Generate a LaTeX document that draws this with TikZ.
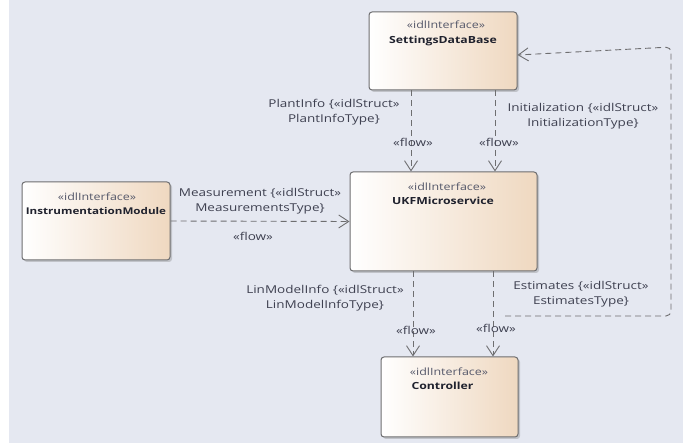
\documentclass[tikz,border=0pt]{standalone}
\usepackage{fontspec}
\setmainfont{Open Sans}[FakeStretch=1.25]
\usetikzlibrary{arrows.meta,shadows,calc}
\definecolor{bg}{HTML}{E5E8F1}
\definecolor{peach}{HTML}{EFD8C0}
\definecolor{edge}{HTML}{6E6E70}
\definecolor{lbl}{HTML}{3E4050}
\definecolor{stereo}{HTML}{55586A}
\definecolor{namec}{HTML}{20222E}
\tikzset{
  box/.style={draw=edge, line width=1pt, rounded corners=3pt, left color=white, right color=peach,
    drop shadow={shadow xshift=2pt, shadow yshift=-2pt, opacity=0.35, fill=gray}, inner sep=0pt},
  stereotxt/.style={font=\fontsize{10}{11}\selectfont, text=stereo, inner sep=0pt},
  nametxt/.style={font=\fontsize{9.8}{11}\selectfont\bfseries, text=namec, inner sep=0pt},
  lbltxt/.style={font=\fontsize{10.8}{14.5}\selectfont, text=lbl, align=center, inner sep=0pt},
  flowline/.style={draw=edge, line width=0.9pt, dash pattern=on 6pt off 4pt,
    -{Straight Barb[length=10pt,width=13pt,line width=0.9pt]}},
}
\begin{document}
\begin{tikzpicture}[x=1pt,y=-1pt]
\fill[white] (0,0) rectangle (683,443);
\fill[bg] (9,0) rectangle (683,443);
\useasboundingbox (0,0) rectangle (683,443);

% boxes
\node[box, minimum width=148pt, minimum height=78pt] (sdb) at (443,51) {};
\node[box, minimum width=187pt, minimum height=99pt] (ukf) at (443.5,221.5) {};
\node[box, minimum width=148pt, minimum height=78pt] (im) at (96,221) {};
\node[box, minimum width=137pt, minimum height=80pt] (ctl) at (449.5,397) {};

% box texts
\node[stereotxt] (sdbS) at (446,25) {«idlInterface»};
\node[nametxt] (sdbN) at (443,41) {SettingsDataBase};
\node[stereotxt] (ukfS) at (447,187) {«idlInterface»};
\node[nametxt] (ukfN) at (443,201) {UKFMicroservice};
\node[stereotxt] (imS) at (97,197) {«idlInterface»};
\node[nametxt, font=\fontsize{9.3}{11}\selectfont\bfseries] (imN) at (96,211) {InstrumentationModule};
\node[stereotxt] (ctlS) at (449,372) {«idlInterface»};
\node[nametxt] (ctlN) at (442.5,386) {Controller};

% connectors
\draw[flowline] ([xshift=-32pt]sdb.south) -- ([xshift=-32.5pt]ukf.north);
\draw[flowline] ([xshift=52pt]sdb.south) -- ([xshift=51.5pt]ukf.north);
\draw[flowline] (im.east) -- (ukf.west);
\draw[flowline] ([xshift=-30.5pt]ukf.south) -- ([xshift=-36.5pt]ctl.north);
\draw[flowline] ([xshift=49.5pt]ukf.south) -- ([xshift=43.5pt]ctl.north);
\coordinate (estsrc) at (505,316);
\coordinate (corner) at (671,47);
\draw[flowline, rounded corners=5pt] (estsrc) -| (corner) -- ([yshift=-4pt]sdb.east);

% labels
\node[lbltxt] (lPlant) at (334,112) {PlantInfo \{«idlStruct»\\PlantInfoType\}};
\node[lbltxt] (fPlant) at (413,142) {«flow»};
\node[lbltxt] (lInit) at (583,116) {Initialization \{«idlStruct»\\InitializationType\}};
\node[lbltxt] (fInit) at (499,142) {«flow»};
\node[lbltxt] (lMeas) at (260,201) {Measurement \{«idlStruct»\\MeasurementsType\}};
\node[lbltxt] (fMeas) at (253,236) {«flow»};
\node[lbltxt] (lLin) at (325,298) {LinModelInfo \{«idlStruct»\\LinModelInfoType\}};
\node[lbltxt] (fLin) at (416,330) {«flow»};
\node[lbltxt] (lEst) at (581,294) {Estimates \{«idlStruct»\\EstimatesType\}};
\node[lbltxt] (fEst) at (496,328) {«flow»};
\end{tikzpicture}
\end{document}
